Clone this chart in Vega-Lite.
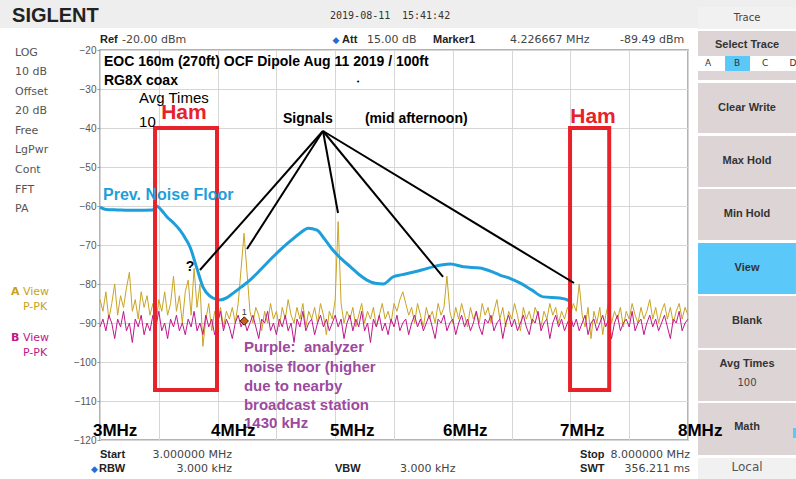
{
"$schema":"https://vega.github.io/schema/vega-lite/v6.json",
"width":588,"height":390,
"autosize":{"type":"none"},
"padding":{"left":100,"top":50,"right":108,"bottom":39},
"background":"white",
"config":{"view":{"stroke":"#9a9a9a","strokeWidth":1.5}},
"datasets":{
"tr":[
{"x":3.000,"a":-84,"b":-91},{"x":3.025,"a":-87,"b":-89},{"x":3.050,"a":-82,"b":-92},{"x":3.075,"a":-89,"b":-88},{"x":3.100,"a":-85,"b":-90},{"x":3.125,"a":-80,"b":-94},{"x":3.150,"a":-88,"b":-89},{"x":3.175,"a":-83,"b":-91},{"x":3.200,"a":-86,"b":-87},{"x":3.225,"a":-81,"b":-92},
{"x":3.250,"a":-77,"b":-90},{"x":3.275,"a":-87,"b":-95},{"x":3.300,"a":-84,"b":-89},{"x":3.325,"a":-89,"b":-91},{"x":3.350,"a":-82,"b":-88},{"x":3.375,"a":-86,"b":-93},{"x":3.400,"a":-83,"b":-90},{"x":3.425,"a":-88,"b":-92},{"x":3.450,"a":-85,"b":-88},{"x":3.475,"a":-91,"b":-91},
{"x":3.500,"a":-84,"b":-87},{"x":3.525,"a":-87,"b":-92},{"x":3.550,"a":-82,"b":-90},{"x":3.575,"a":-88,"b":-94},{"x":3.600,"a":-85,"b":-89},{"x":3.625,"a":-78,"b":-91},{"x":3.650,"a":-87,"b":-88},{"x":3.675,"a":-83,"b":-92},{"x":3.700,"a":-90,"b":-90},{"x":3.725,"a":-82,"b":-93},
{"x":3.750,"a":-79,"b":-89},{"x":3.775,"a":-88,"b":-91},{"x":3.800,"a":-76,"b":-87},{"x":3.825,"a":-86,"b":-92},{"x":3.850,"a":-80,"b":-90},{"x":3.875,"a":-96,"b":-93},{"x":3.900,"a":-89,"b":-88},{"x":3.925,"a":-85,"b":-91},{"x":3.950,"a":-92,"b":-89},{"x":3.975,"a":-87,"b":-93},
{"x":4.000,"a":-90,"b":-90},{"x":4.025,"a":-86,"b":-87},{"x":4.050,"a":-91,"b":-92},{"x":4.075,"a":-87,"b":-89},{"x":4.100,"a":-89,"b":-91},{"x":4.125,"a":-86,"b":-94},{"x":4.150,"a":-90,"b":-90},{"x":4.175,"a":-85,"b":-88},{"x":4.200,"a":-76,"b":-91},{"x":4.225,"a":-67,"b":-89},
{"x":4.250,"a":-77,"b":-92},{"x":4.275,"a":-87,"b":-90},{"x":4.300,"a":-90,"b":-88},{"x":4.325,"a":-86,"b":-91},{"x":4.350,"a":-88,"b":-94},{"x":4.375,"a":-92,"b":-89},{"x":4.400,"a":-87,"b":-90},{"x":4.425,"a":-90,"b":-87},{"x":4.450,"a":-85,"b":-92},{"x":4.475,"a":-89,"b":-90},
{"x":4.500,"a":-87,"b":-93},{"x":4.525,"a":-91,"b":-89},{"x":4.550,"a":-86,"b":-91},{"x":4.575,"a":-89,"b":-88},{"x":4.600,"a":-84,"b":-92},{"x":4.625,"a":-88,"b":-90},{"x":4.650,"a":-90,"b":-95},{"x":4.675,"a":-86,"b":-89},{"x":4.700,"a":-89,"b":-91},{"x":4.725,"a":-85,"b":-87},
{"x":4.750,"a":-91,"b":-92},{"x":4.775,"a":-87,"b":-90},{"x":4.800,"a":-89,"b":-89},{"x":4.825,"a":-86,"b":-93},{"x":4.850,"a":-90,"b":-90},{"x":4.875,"a":-85,"b":-88},{"x":4.900,"a":-88,"b":-91},{"x":4.925,"a":-93,"b":-89},{"x":4.950,"a":-87,"b":-92},{"x":4.975,"a":-89,"b":-90},
{"x":5.000,"a":-84,"b":-88},{"x":5.025,"a":-64,"b":-91},{"x":5.050,"a":-85,"b":-89},{"x":5.075,"a":-90,"b":-94},{"x":5.100,"a":-87,"b":-90},{"x":5.125,"a":-89,"b":-88},{"x":5.150,"a":-86,"b":-92},{"x":5.175,"a":-91,"b":-89},{"x":5.200,"a":-88,"b":-91},{"x":5.225,"a":-85,"b":-87},
{"x":5.250,"a":-90,"b":-92},{"x":5.275,"a":-87,"b":-90},{"x":5.300,"a":-89,"b":-95},{"x":5.325,"a":-86,"b":-89},{"x":5.350,"a":-91,"b":-91},{"x":5.375,"a":-88,"b":-88},{"x":5.400,"a":-85,"b":-92},{"x":5.425,"a":-89,"b":-90},{"x":5.450,"a":-87,"b":-93},{"x":5.475,"a":-90,"b":-89},
{"x":5.500,"a":-85,"b":-91},{"x":5.525,"a":-87,"b":-88},{"x":5.550,"a":-84,"b":-92},{"x":5.575,"a":-82,"b":-90},{"x":5.600,"a":-85,"b":-89},{"x":5.625,"a":-88,"b":-93},{"x":5.650,"a":-86,"b":-90},{"x":5.675,"a":-90,"b":-88},{"x":5.700,"a":-85,"b":-91},{"x":5.725,"a":-88,"b":-89},
{"x":5.750,"a":-91,"b":-92},{"x":5.775,"a":-86,"b":-90},{"x":5.800,"a":-89,"b":-88},{"x":5.825,"a":-87,"b":-91},{"x":5.850,"a":-90,"b":-94},{"x":5.875,"a":-85,"b":-89},{"x":5.900,"a":-88,"b":-90},{"x":5.925,"a":-86,"b":-88},{"x":5.950,"a":-78,"b":-92},{"x":5.975,"a":-87,"b":-90},
{"x":6.000,"a":-90,"b":-89},{"x":6.025,"a":-86,"b":-93},{"x":6.050,"a":-89,"b":-90},{"x":6.075,"a":-85,"b":-88},{"x":6.100,"a":-88,"b":-91},{"x":6.125,"a":-91,"b":-89},{"x":6.150,"a":-86,"b":-92},{"x":6.175,"a":-89,"b":-90},{"x":6.200,"a":-87,"b":-87},{"x":6.225,"a":-90,"b":-91},
{"x":6.250,"a":-85,"b":-93},{"x":6.275,"a":-88,"b":-89},{"x":6.300,"a":-86,"b":-90},{"x":6.325,"a":-90,"b":-88},{"x":6.350,"a":-87,"b":-92},{"x":6.375,"a":-84,"b":-90},{"x":6.400,"a":-89,"b":-89},{"x":6.425,"a":-86,"b":-94},{"x":6.450,"a":-91,"b":-90},{"x":6.475,"a":-87,"b":-88},
{"x":6.500,"a":-89,"b":-91},{"x":6.525,"a":-85,"b":-89},{"x":6.550,"a":-88,"b":-92},{"x":6.575,"a":-92,"b":-90},{"x":6.600,"a":-86,"b":-88},{"x":6.625,"a":-89,"b":-91},{"x":6.650,"a":-87,"b":-93},{"x":6.675,"a":-90,"b":-89},{"x":6.700,"a":-86,"b":-90},{"x":6.725,"a":-88,"b":-87},
{"x":6.750,"a":-91,"b":-92},{"x":6.775,"a":-87,"b":-90},{"x":6.800,"a":-89,"b":-89},{"x":6.825,"a":-85,"b":-94},{"x":6.850,"a":-88,"b":-90},{"x":6.875,"a":-86,"b":-88},{"x":6.900,"a":-90,"b":-91},{"x":6.925,"a":-87,"b":-89},{"x":6.950,"a":-89,"b":-92},{"x":6.975,"a":-86,"b":-90},
{"x":7.000,"a":-88,"b":-88},{"x":7.025,"a":-85,"b":-91},{"x":7.050,"a":-87,"b":-89},{"x":7.075,"a":-80,"b":-92},{"x":7.100,"a":-88,"b":-90},{"x":7.125,"a":-91,"b":-88},{"x":7.150,"a":-86,"b":-93},{"x":7.175,"a":-94,"b":-90},{"x":7.200,"a":-87,"b":-89},{"x":7.225,"a":-90,"b":-92},
{"x":7.250,"a":-86,"b":-90},{"x":7.275,"a":-93,"b":-88},{"x":7.300,"a":-88,"b":-91},{"x":7.325,"a":-85,"b":-89},{"x":7.350,"a":-90,"b":-94},{"x":7.375,"a":-87,"b":-90},{"x":7.400,"a":-89,"b":-88},{"x":7.425,"a":-86,"b":-92},{"x":7.450,"a":-91,"b":-90},{"x":7.475,"a":-87,"b":-89},
{"x":7.500,"a":-89,"b":-91},{"x":7.525,"a":-85,"b":-87},{"x":7.550,"a":-88,"b":-92},{"x":7.575,"a":-90,"b":-90},{"x":7.600,"a":-86,"b":-89},{"x":7.625,"a":-89,"b":-93},{"x":7.650,"a":-87,"b":-90},{"x":7.675,"a":-84,"b":-88},{"x":7.700,"a":-89,"b":-91},{"x":7.725,"a":-86,"b":-89},
{"x":7.750,"a":-90,"b":-92},{"x":7.775,"a":-87,"b":-90},{"x":7.800,"a":-85,"b":-88},{"x":7.825,"a":-89,"b":-91},{"x":7.850,"a":-86,"b":-94},{"x":7.875,"a":-90,"b":-89},{"x":7.900,"a":-87,"b":-90},{"x":7.925,"a":-85,"b":-87},{"x":7.950,"a":-89,"b":-92},{"x":7.975,"a":-86,"b":-90},
{"x":8.000,"a":-88,"b":-89}
],
"nf":[
{"x":3.0,"y":-60.3},{"x":3.05,"y":-60.9},{"x":3.15,"y":-61.0},{"x":3.3,"y":-61.1},{"x":3.45,"y":-61.0},{"x":3.48,"y":-60.0},{"x":3.52,"y":-61.0},{"x":3.57,"y":-62.8},{"x":3.63,"y":-64.5},{"x":3.68,"y":-66.2},{"x":3.73,"y":-68.5},{"x":3.765,"y":-70.5},{"x":3.82,"y":-75.6},{"x":3.876,"y":-80.8},{"x":3.93,"y":-83.0},{"x":3.96,"y":-83.6},{"x":4.02,"y":-84.1},{"x":4.08,"y":-83.5},{"x":4.13,"y":-82.4},{"x":4.2,"y":-80.8},{"x":4.275,"y":-79.0},{"x":4.35,"y":-76.8},{"x":4.42,"y":-74.6},{"x":4.49,"y":-72.5},{"x":4.56,"y":-70.5},{"x":4.63,"y":-68.7},{"x":4.70,"y":-67.0},{"x":4.77,"y":-65.7},{"x":4.845,"y":-66.2},{"x":4.91,"y":-68.5},{"x":4.98,"y":-71.3},{"x":5.05,"y":-73.5},{"x":5.13,"y":-75.6},{"x":5.2,"y":-77.5},{"x":5.27,"y":-79.0},{"x":5.34,"y":-79.8},{"x":5.41,"y":-80.0},{"x":5.49,"y":-78.2},{"x":5.57,"y":-77.6},{"x":5.66,"y":-77.0},{"x":5.75,"y":-76.3},{"x":5.83,"y":-75.6},{"x":5.98,"y":-74.9},{"x":6.09,"y":-75.6},{"x":6.23,"y":-75.9},{"x":6.32,"y":-76.7},{"x":6.40,"y":-77.7},{"x":6.49,"y":-78.6},{"x":6.57,"y":-79.7},{"x":6.67,"y":-81.5},{"x":6.77,"y":-83.3},{"x":6.91,"y":-83.6},{"x":6.97,"y":-84.0},{"x":7.0,"y":-84.6}
],
"box":[{"x":3.468,"x2":3.995,"y":-40,"y2":-107.2},{"x":6.997,"x2":7.33,"y":-40,"y2":-107.2}],
"lead":[
{"x":4.896,"y":-40.77,"x2":3.850,"y2":-76.41},
{"x":4.896,"y":-40.77,"x2":4.250,"y2":-71.03},
{"x":4.896,"y":-40.77,"x2":5.024,"y2":-61.79},
{"x":4.896,"y":-40.77,"x2":5.917,"y2":-78.2},
{"x":4.896,"y":-40.77,"x2":7.031,"y2":-79.74}
],
"ui":[
{"x":2.15,"x2":8.918,"y":-7.18,"y2":-14.36,"k":"hdr"},
{"x":8.085,"x2":8.918,"y":-8.97,"y2":-14.62,"k":"cell"},
{"x":8.085,"x2":8.918,"y":-15.13,"y2":-27.69,"k":"btn"},
{"x":8.085,"x2":8.918,"y":-21.54,"y2":-25.38,"k":"white"},
{"x":8.315,"x2":8.527,"y":-21.54,"y2":-25.38,"k":"sel"},
{"x":8.085,"x2":8.918,"y":-28.46,"y2":-41.28,"k":"btn"},
{"x":8.085,"x2":8.918,"y":-42.05,"y2":-55.13,"k":"btn"},
{"x":8.085,"x2":8.918,"y":-55.64,"y2":-68.72,"k":"btn"},
{"x":8.085,"x2":8.918,"y":-69.49,"y2":-82.56,"k":"sel"},
{"x":8.085,"x2":8.918,"y":-83.08,"y2":-96.41,"k":"btn"},
{"x":8.085,"x2":8.918,"y":-96.92,"y2":-110.0,"k":"btn"},
{"x":8.085,"x2":8.918,"y":-110.51,"y2":-123.85,"k":"btn"},
{"x":8.085,"x2":8.918,"y":-124.62,"y2":-130.0,"k":"cell"},
{"x":8.893,"x2":8.918,"y":-116.92,"y2":-119.49,"k":"sel"}
],
"mk":[{"x":4.2267,"y":-89.49,"t":"1"}],
"txt":[
{"t":"LOG","x":2.277,"y":-20.77,"g":"side"},{"t":"10 dB","x":2.277,"y":-25.64,"g":"side"},{"t":"Offset","x":2.277,"y":-30.77,"g":"side"},{"t":"20 dB","x":2.277,"y":-35.64,"g":"side"},{"t":"Free","x":2.277,"y":-40.77,"g":"side"},{"t":"LgPwr","x":2.277,"y":-45.64,"g":"side"},{"t":"Cont","x":2.277,"y":-50.77,"g":"side"},{"t":"FFT","x":2.277,"y":-55.90,"g":"side"},{"t":"PA","x":2.277,"y":-60.77,"g":"side"},
{"t":"A","x":2.243,"y":-82.05,"g":"gab"},{"t":"View","x":2.345,"y":-82.05,"g":"ga"},{"t":"P-PK","x":2.345,"y":-85.90,"g":"ga"},
{"t":"B","x":2.243,"y":-93.85,"g":"mbb"},{"t":"View","x":2.345,"y":-93.85,"g":"mb"},{"t":"P-PK","x":2.345,"y":-97.69,"g":"mb"},
{"t":"SIGLENT","x":2.252,"y":-11.28,"g":"logo"},
{"t":"2019-08-11","x":4.956,"y":-11.28,"g":"date"},{"t":"15:41:42","x":5.568,"y":-11.28,"g":"date"},
{"t":"Ref","x":3.0,"y":-17.44,"g":"infob"},{"t":"Att","x":5.058,"y":-17.44,"g":"infob"},{"t":"Marker1","x":5.832,"y":-17.44,"g":"infob"},
{"t":"Start","x":3.0,"y":-123.85,"g":"infob"},{"t":"RBW","x":2.991,"y":-127.44,"g":"infob"},{"t":"VBW","x":4.998,"y":-127.44,"g":"infob"},{"t":"Stop","x":7.082,"y":-123.85,"g":"infob"},{"t":"SWT","x":7.082,"y":-127.44,"g":"infob"},
{"t":"-20.00 dBm","x":3.187,"y":-17.44,"g":"info"},{"t":"15.00 dB","x":5.270,"y":-17.44,"g":"info"},{"t":"4.226667 MHz","x":6.486,"y":-17.44,"g":"info"},{"t":"-89.49 dBm","x":7.422,"y":-17.44,"g":"info"},{"t":"3.000 kHz","x":5.551,"y":-127.44,"g":"info"},
{"t":"3.000000 MHz","x":4.122,"y":-123.85,"g":"infor"},{"t":"3.000 kHz","x":4.122,"y":-127.44,"g":"infor"},{"t":"8.000000 MHz","x":8.017,"y":-123.85,"g":"infor"},{"t":"356.211 ms","x":8.017,"y":-127.44,"g":"infor"},
{"t":"◆","x":5.007,"y":-17.44,"g":"dia"},{"t":"◆","x":2.952,"y":-127.44,"g":"dia"},
{"t":"EOC 160m (270ft) OCF Dipole Aug 11 2019 / 100ft","x":3.034,"y":-23.08,"g":"title"},{"t":"RG8X coax","x":3.034,"y":-27.95,"g":"title"},{"t":"Signals","x":4.556,"y":-37.69,"g":"title"},{"t":"(mid afternoon)","x":5.253,"y":-37.69,"g":"title"},
{"t":"Avg Times","x":3.332,"y":-32.31,"g":"avg"},{"t":"10","x":3.332,"y":-38.46,"g":"avg"},
{"t":"Ham","x":3.714,"y":-36.15,"g":"ham"},{"t":"Ham","x":7.192,"y":-37.18,"g":"ham"},
{"t":"?","x":3.765,"y":-75.64,"g":"q"},
{"t":"Prev. Noise Floor","x":3.026,"y":-57.18,"g":"pnf"},
{"t":"Purple:\u00a0 analyzer","x":4.224,"y":-96.15,"g":"purp"},{"t":"noise floor (higher","x":4.224,"y":-101.28,"g":"purp"},{"t":"due to nearby","x":4.224,"y":-106.15,"g":"purp"},{"t":"broadcast station","x":4.224,"y":-111.03,"g":"purp"},{"t":"1430 kHz","x":4.224,"y":-115.70,"g":"purp"},
{"t":"3MHz","x":2.940,"y":-117.69,"g":"mhz"},{"t":"4MHz","x":3.944,"y":-117.69,"g":"mhz"},{"t":"5MHz","x":4.956,"y":-117.69,"g":"mhz"},{"t":"6MHz","x":5.917,"y":-117.69,"g":"mhz"},{"t":"7MHz","x":6.912,"y":-117.69,"g":"mhz"},{"t":"8MHz","x":7.915,"y":-117.69,"g":"mhz"},
{"t":"Select Trace","x":8.502,"y":-18.72,"g":"btn"},{"t":"Clear Write","x":8.502,"y":-34.87,"g":"btn"},{"t":"Max Hold","x":8.502,"y":-48.46,"g":"btn"},{"t":"Min Hold","x":8.502,"y":-62.05,"g":"btn"},{"t":"View","x":8.502,"y":-75.90,"g":"btn"},{"t":"Blank","x":8.502,"y":-89.49,"g":"btn"},{"t":"Avg Times","x":8.502,"y":-100.51,"g":"btn"},{"t":"Math","x":8.502,"y":-116.67,"g":"btn"},
{"t":"Trace","x":8.502,"y":-11.79,"g":"btnn"},{"t":"100","x":8.502,"y":-105.38,"g":"btnn"},
{"t":"A","x":8.170,"y":-23.46,"g":"abcd"},{"t":"B","x":8.417,"y":-23.46,"g":"abcd"},{"t":"C","x":8.655,"y":-23.46,"g":"abcd"},{"t":"D","x":8.893,"y":-23.46,"g":"abcd"},
{"t":"Local","x":8.502,"y":-126.92,"g":"local"},
{"t":"•","x":5.194,"y":-28.2,"g":"dot"}
]
},
"encoding":{
"x":{"field":"x","type":"quantitative","title":null,"scale":{"domain":[3,8],"nice":false,"zero":false},
 "axis":{"values":[3,3.5,4,4.5,5,5.5,6,6.5,7,7.5,8],"grid":true,"gridColor":"#d6d6d6","labels":false,"ticks":false,"domain":false,"title":null}},
"y":{"field":"y","type":"quantitative","title":null,"scale":{"domain":[-120,-20],"nice":false,"zero":false},
 "axis":{"values":[-120,-110,-100,-90,-80,-70,-60,-50,-40,-30,-20],"grid":true,"gridColor":"#d6d6d6","domain":false,"tickSize":3,"tickColor":"#999","labelPadding":1,"labelFont":"Liberation Sans","labelFontSize":10,"labelColor":"#555","labelFlush":false,"labelOverlap":false,"title":null}}
},
"layer":[
{"data":{"name":"ui"},"mark":{"type":"rect"},
 "encoding":{"x2":{"field":"x2"},"y2":{"field":"y2"},
  "color":{"field":"k","type":"nominal","legend":null,"scale":{"domain":["hdr","cell","btn","white","sel"],"range":["#eeeeee","#f1f1f1","#ddd5d5","#ffffff","#5ac8f8"]}}}},
{"data":{"name":"tr"},"mark":{"type":"line","color":"#c9a424","strokeWidth":1},
 "encoding":{"y":{"field":"a","type":"quantitative","title":null,"scale":{"domain":[-120,-20],"nice":false,"zero":false}}}},
{"data":{"name":"tr"},"mark":{"type":"line","color":"#c0168c","strokeWidth":1},
 "encoding":{"y":{"field":"b","type":"quantitative","title":null,"scale":{"domain":[-120,-20],"nice":false,"zero":false}}}},
{"data":{"name":"nf"},"mark":{"type":"line","color":"#1d9fdb","strokeWidth":3,"interpolate":"monotone"},"encoding":{}},
{"data":{"name":"box"},"mark":{"type":"rect","fill":"transparent","stroke":"#e8222b","strokeWidth":4},
 "encoding":{"x2":{"field":"x2"},"y2":{"field":"y2"}}},
{"data":{"name":"lead"},"mark":{"type":"rule","color":"#000000","strokeWidth":2},
 "encoding":{"x2":{"field":"x2"},"y2":{"field":"y2"}}},
{"data":{"name":"mk"},"mark":{"type":"point","shape":"diamond","filled":true,"size":70,"color":"#c8601e","stroke":"#4a2000","strokeWidth":1,"opacity":1},"encoding":{}},
{"data":{"name":"mk"},"mark":{"type":"text","fontSize":9,"font":"Liberation Sans","color":"#333","dy":-9},"encoding":{"text":{"field":"t"}}},
{"data":{"name":"txt"},"transform":[{"filter":"datum.g=='side'"}],"mark":{"type":"text","align":"left","baseline":"middle","font":"DejaVu Sans","fontSize":11,"color":"#555555"},"encoding":{"text":{"field":"t"}}},
{"data":{"name":"txt"},"transform":[{"filter":"datum.g=='gab'"}],"mark":{"type":"text","align":"left","baseline":"middle","font":"DejaVu Sans","fontSize":11,"fontWeight":"bold","color":"#c9a21c"},"encoding":{"text":{"field":"t"}}},
{"data":{"name":"txt"},"transform":[{"filter":"datum.g=='ga'"}],"mark":{"type":"text","align":"left","baseline":"middle","font":"DejaVu Sans","fontSize":11,"color":"#c9a21c"},"encoding":{"text":{"field":"t"}}},
{"data":{"name":"txt"},"transform":[{"filter":"datum.g=='mbb'"}],"mark":{"type":"text","align":"left","baseline":"middle","font":"DejaVu Sans","fontSize":11,"fontWeight":"bold","color":"#c0168c"},"encoding":{"text":{"field":"t"}}},
{"data":{"name":"txt"},"transform":[{"filter":"datum.g=='mb'"}],"mark":{"type":"text","align":"left","baseline":"middle","font":"DejaVu Sans","fontSize":11,"color":"#c0168c"},"encoding":{"text":{"field":"t"}}},
{"data":{"name":"txt"},"transform":[{"filter":"datum.g=='logo'"}],"mark":{"type":"text","align":"left","baseline":"middle","font":"Liberation Sans","fontSize":20,"fontWeight":"bold","color":"#222222"},"encoding":{"text":{"field":"t"}}},
{"data":{"name":"txt"},"transform":[{"filter":"datum.g=='date'"}],"mark":{"type":"text","align":"left","baseline":"middle","font":"DejaVu Sans Mono","fontSize":10,"color":"#333333"},"encoding":{"text":{"field":"t"}}},
{"data":{"name":"txt"},"transform":[{"filter":"datum.g=='infob'"}],"mark":{"type":"text","align":"left","baseline":"middle","font":"Liberation Sans","fontSize":11,"fontWeight":"bold","color":"#222222"},"encoding":{"text":{"field":"t"}}},
{"data":{"name":"txt"},"transform":[{"filter":"datum.g=='info'"}],"mark":{"type":"text","align":"left","baseline":"middle","font":"DejaVu Sans","fontSize":11,"color":"#444444"},"encoding":{"text":{"field":"t"}}},
{"data":{"name":"txt"},"transform":[{"filter":"datum.g=='infor'"}],"mark":{"type":"text","align":"right","baseline":"middle","font":"DejaVu Sans","fontSize":11,"color":"#444444"},"encoding":{"text":{"field":"t"}}},
{"data":{"name":"txt"},"transform":[{"filter":"datum.g=='dia'"}],"mark":{"type":"text","align":"center","baseline":"middle","font":"DejaVu Sans","fontSize":9,"color":"#1f6fd0"},"encoding":{"text":{"field":"t"}}},
{"data":{"name":"txt"},"transform":[{"filter":"datum.g=='title'"}],"mark":{"type":"text","align":"left","baseline":"middle","font":"Liberation Sans","fontSize":14,"fontWeight":"bold","color":"#000000"},"encoding":{"text":{"field":"t"}}},
{"data":{"name":"txt"},"transform":[{"filter":"datum.g=='avg'"}],"mark":{"type":"text","align":"left","baseline":"middle","font":"Liberation Sans","fontSize":15,"color":"#000000"},"encoding":{"text":{"field":"t"}}},
{"data":{"name":"txt"},"transform":[{"filter":"datum.g=='ham'"}],"mark":{"type":"text","align":"center","baseline":"middle","font":"Liberation Sans","fontSize":21,"fontWeight":"bold","color":"#e8222b"},"encoding":{"text":{"field":"t"}}},
{"data":{"name":"txt"},"transform":[{"filter":"datum.g=='q'"}],"mark":{"type":"text","align":"center","baseline":"middle","font":"Liberation Sans","fontSize":14,"fontWeight":"bold","color":"#000000"},"encoding":{"text":{"field":"t"}}},
{"data":{"name":"txt"},"transform":[{"filter":"datum.g=='pnf'"}],"mark":{"type":"text","align":"left","baseline":"middle","font":"Liberation Sans","fontSize":16,"fontWeight":"bold","color":"#1d9fdb"},"encoding":{"text":{"field":"t"}}},
{"data":{"name":"txt"},"transform":[{"filter":"datum.g=='purp'"}],"mark":{"type":"text","align":"left","baseline":"middle","font":"Liberation Sans","fontSize":15,"fontWeight":"bold","color":"#9b4a9e"},"encoding":{"text":{"field":"t"}}},
{"data":{"name":"txt"},"transform":[{"filter":"datum.g=='mhz'"}],"mark":{"type":"text","align":"left","baseline":"middle","font":"Liberation Sans","fontSize":17,"fontWeight":"bold","color":"#000000"},"encoding":{"text":{"field":"t"}}},
{"data":{"name":"txt"},"transform":[{"filter":"datum.g=='btn'"}],"mark":{"type":"text","align":"center","baseline":"middle","font":"Liberation Sans","fontSize":11,"fontWeight":"bold","color":"#333333"},"encoding":{"text":{"field":"t"}}},
{"data":{"name":"txt"},"transform":[{"filter":"datum.g=='btnn'"}],"mark":{"type":"text","align":"center","baseline":"middle","font":"DejaVu Sans","fontSize":10,"color":"#444444"},"encoding":{"text":{"field":"t"}}},
{"data":{"name":"txt"},"transform":[{"filter":"datum.g=='abcd'"}],"mark":{"type":"text","align":"center","baseline":"middle","font":"DejaVu Sans","fontSize":9,"color":"#333333"},"encoding":{"text":{"field":"t"}}},
{"data":{"name":"txt"},"transform":[{"filter":"datum.g=='local'"}],"mark":{"type":"text","align":"center","baseline":"middle","font":"DejaVu Sans","fontSize":12,"color":"#555555"},"encoding":{"text":{"field":"t"}}},
{"data":{"name":"txt"},"transform":[{"filter":"datum.g=='dot'"}],"mark":{"type":"text","align":"center","baseline":"middle","font":"DejaVu Sans","fontSize":7,"color":"#000000"},"encoding":{"text":{"field":"t"}}}
]
}
